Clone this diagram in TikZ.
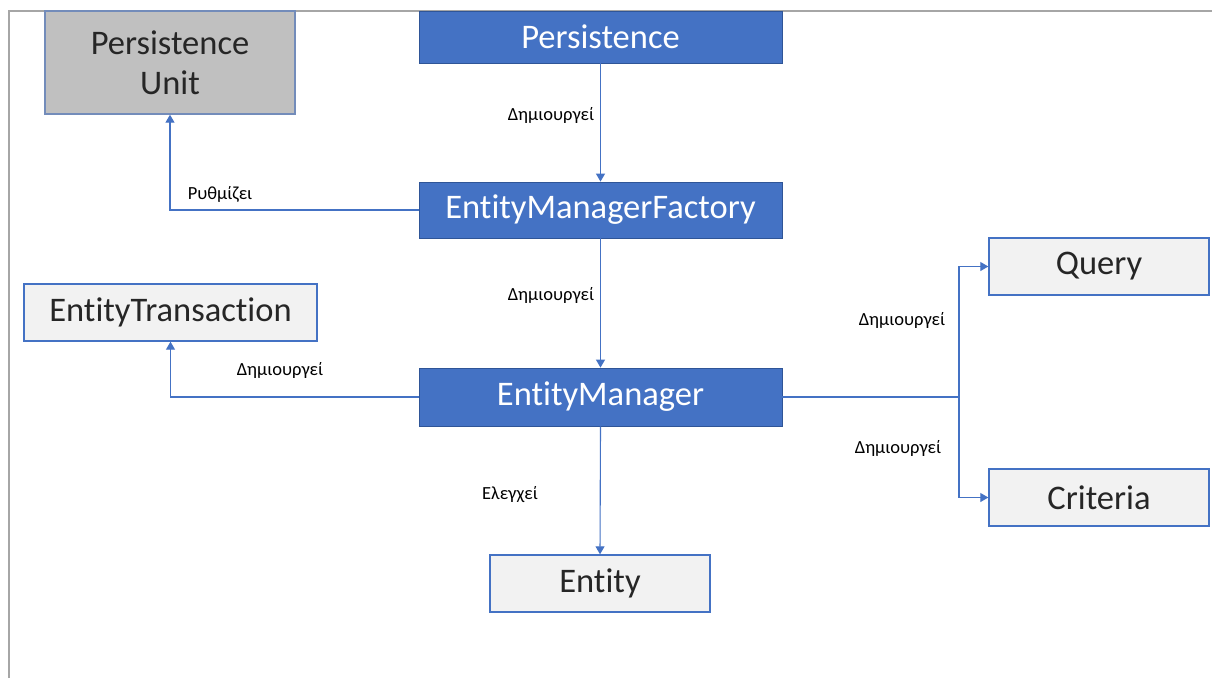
\documentclass[tikz,border=0pt]{standalone}
\usepackage{fontspec}
\setmainfont{Carlito}[Ligatures=NoCommon]
\usetikzlibrary{arrows.meta}
\definecolor{accent}{HTML}{4472C4}
\definecolor{accentdark}{HTML}{2F5597}
\definecolor{paleface}{HTML}{F2F2F2}
\definecolor{greyface}{HTML}{C0C0C0}
\definecolor{framegrey}{HTML}{A6A6A6}
\tikzset{
  solidbox/.style={draw=accentdark, line width=0.8pt, fill=accent, text=white,
    font=\fontsize{34.5}{38}\selectfont, inner sep=0pt},
  palebox/.style={draw=accent, line width=1.4pt, fill=paleface, text=black!85,
    font=\fontsize{34.5}{38}\selectfont, inner sep=0pt},
  greybox/.style={draw=accent!80!black!70, line width=1.4pt, fill=greyface, text=black!85,
    font=\fontsize{34.5}{40}\selectfont, inner sep=0pt, align=center},
  link/.style={draw=accent, line width=1.1pt, -{Triangle[width=9pt,length=8pt]}},
  linkplain/.style={draw=accent, line width=1.1pt},
  tag/.style={font=\fontsize{18.5}{20}\selectfont, text=black, inner sep=0pt}
}
\begin{document}
\begin{tikzpicture}[x=1pt,y=-1pt]
  \useasboundingbox (0,0) rectangle (1212,678);
  \fill[white] (0,0) rectangle (1212,678);

  % outer frame edges
  \draw[framegrey, line width=1.2pt] (9,678) -- (9,11) -- (1212,11);

  % boxes
  \node[greybox, minimum width=250, minimum height=103] (pu) at (170,62.5)
    {Persistence\\Unit};
  \node[solidbox, minimum width=363, minimum height=52] (pers) at (600.5,37) {Persistence};
  \node[solidbox, minimum width=363, minimum height=56] (emf) at (600.5,210) {EntityManagerFactory};
  \node[solidbox, minimum width=363, minimum height=58] (em) at (600.5,397) {EntityManager};
  \node[palebox, minimum width=293, minimum height=57] (et) at (170.5,312.5) {EntityTransaction};
  \node[palebox, minimum width=220, minimum height=57] (query) at (1099,266.5) {Query};
  \node[palebox, minimum width=220, minimum height=57] (crit) at (1099,497.5) {Criteria};
  \node[palebox, minimum width=220, minimum height=57] (ent) at (600,583.5) {Entity};

  % branch point towards Query and Criteria
  \coordinate (br) at (959,397);

  % connectors
  \draw[link] (pers.south) -- (emf.north);
  \draw[link] (emf.west) -| (pu.south);
  \draw[link] (emf.south) -- (em.north);
  \draw[link] (em.west) -| (et.south);
  \draw[linkplain] (em.east) -- (br);
  \draw[link] (br) |- (query.west);
  \draw[link] (br) |- (crit.west);
  \draw[link] (em.south) -- (ent.north);

  % connector labels
  \node[tag] (l1) at (551,115) {Δημιουργεί};
  \node[tag] (l2) at (220,194) {Ρυθμίζει};
  \node[tag] (l3) at (551,295) {Δημιουργεί};
  \node[tag] (l4) at (280,370) {Δημιουργεί};
  \node[tag] (l5) at (902,320) {Δημιουργεί};
  \node[tag] (l6) at (898,448) {Δημιουργεί};
  \node[tag] (l7) at (510,495) {Ελεγχεί};
\end{tikzpicture}
\end{document}
